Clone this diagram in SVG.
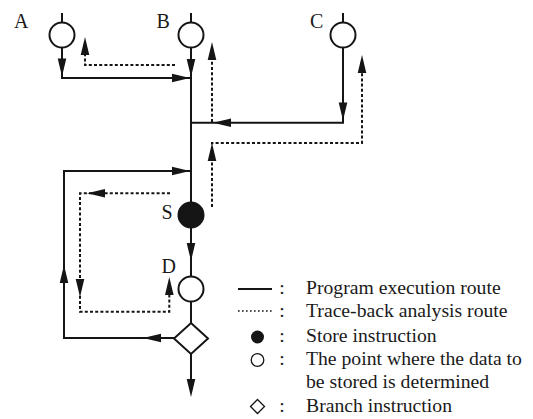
<svg xmlns="http://www.w3.org/2000/svg" xmlns:xlink="http://www.w3.org/1999/xlink" width="533" height="419" viewBox="0 0 533 419">
<style>
.bg{fill:#ffffff}
.ln{fill:none;stroke:#151515;stroke-width:2}
.dt{fill:none;stroke:#151515;stroke-width:2;stroke-dasharray:3 2.2}
.nd{fill:#ffffff;stroke:#151515;stroke-width:2}
.st{fill:#151515;stroke:#151515;stroke-width:2}
.ah{fill:#151515}
.lb{font-family:"Liberation Serif","Times New Roman",serif;font-size:20px;fill:#1a1a1a}
.lg{font-family:"Liberation Serif","Times New Roman",serif;font-size:19.7px;fill:#1a1a1a}
</style>
<defs>
<path id="ah" d="M0,0 L-18,-4.3 L-18,4.3 Z"/>
</defs>
<rect class="bg" x="0" y="0" width="533" height="419"/>

<g id="connectors">
  <!-- program execution route (solid) -->
  <path class="ln" d="M62,47.5 V78 H191"/>
  <path class="ln" d="M191,47.5 V202"/>
  <path class="ln" d="M343,47.5 V122.7 H191"/>
  <path class="ln" d="M191,171 H64 V338 H174"/>
  <path class="ln" d="M191,228 V276.5"/>
  <path class="ln" d="M191,301.5 V323"/>
  <path class="ln" d="M191,353.5 V390"/>
  <use href="#ah" class="ah" transform="translate(62,76.5) rotate(90)"/>
  <use href="#ah" class="ah" transform="translate(190,78) rotate(0)"/>
  <use href="#ah" class="ah" transform="translate(191,77) rotate(90)"/>
  <use href="#ah" class="ah" transform="translate(343,120.5) rotate(90)"/>
  <use href="#ah" class="ah" transform="translate(213,122.7) rotate(180)"/>
  <use href="#ah" class="ah" transform="translate(190,171) rotate(0)"/>
  <use href="#ah" class="ah" transform="translate(64,265) rotate(-90)"/>
  <use href="#ah" class="ah" transform="translate(143,338) rotate(180)"/>
  <use href="#ah" class="ah" transform="translate(191,261) rotate(90)"/>
  <use href="#ah" class="ah" transform="translate(191,397) rotate(90)"/>
  <!-- trace-back analysis route (dotted) -->
  <path class="dt" d="M175,65 H85 V52"/>
  <path class="dt" d="M212,122 V58"/>
  <path class="dt" d="M212,207 V143 H362 V70"/>
  <path class="dt" d="M170,193.3 H80 V311.7 H169.3 V292"/>
  <use href="#ah" class="ah" transform="translate(85,37) rotate(-90)"/>
  <use href="#ah" class="ah" transform="translate(212,42) rotate(-90)"/>
  <use href="#ah" class="ah" transform="translate(362,55) rotate(-90)"/>
  <use href="#ah" class="ah" transform="translate(212,143) rotate(-90)"/>
  <use href="#ah" class="ah" transform="translate(87,193.3) rotate(180)"/>
  <use href="#ah" class="ah" transform="translate(80,297) rotate(90)"/>
  <use href="#ah" class="ah" transform="translate(169.3,277) rotate(-90)"/>
</g>

<g id="node-A">
  <line class="ln" x1="62" y1="13" x2="62" y2="22.5"/>
  <circle class="nd" cx="62" cy="35" r="12.5"/>
  <text class="lb" x="14" y="28">A</text>
</g>
<g id="node-B">
  <line class="ln" x1="191" y1="13" x2="191" y2="22.5"/>
  <circle class="nd" cx="191" cy="35" r="12.5"/>
  <text class="lb" x="156.5" y="28">B</text>
</g>
<g id="node-C">
  <line class="ln" x1="343" y1="13" x2="343" y2="22.5"/>
  <circle class="nd" cx="343" cy="35" r="12.5"/>
  <text class="lb" x="310" y="28">C</text>
</g>
<g id="node-S">
  <circle class="st" cx="191" cy="215" r="12.5"/>
  <text class="lb" x="161.5" y="219">S</text>
</g>
<g id="node-D">
  <circle class="nd" cx="191" cy="289" r="12.5"/>
  <text class="lb" x="161.5" y="273">D</text>
</g>
<g id="node-branch">
  <polygon class="nd" points="191,323 208,338.5 191,354 174,338.5"/>
</g>

<g id="legend">
  <line x1="238" y1="289" x2="272" y2="289" stroke="#151515" stroke-width="2"/>
  <line x1="238" y1="311" x2="272" y2="311" stroke="#151515" stroke-width="1.6" stroke-dasharray="1.6 2.4"/>
  <circle cx="257.5" cy="337" r="6.5" fill="#151515"/>
  <circle cx="257.5" cy="360" r="6.3" fill="#ffffff" stroke="#151515" stroke-width="1.3"/>
  <polygon points="257.5,399.5 264.5,406.5 257.5,413.5 250.5,406.5" fill="#ffffff" stroke="#151515" stroke-width="1.3"/>
  <text class="lg" x="282" y="294" text-anchor="middle">:</text>
  <text class="lg" x="282" y="317" text-anchor="middle">:</text>
  <text class="lg" x="282" y="342" text-anchor="middle">:</text>
  <text class="lg" x="282" y="365" text-anchor="middle">:</text>
  <text class="lg" x="282" y="411.5" text-anchor="middle">:</text>
  <text class="lg" x="306" y="294">Program execution route</text>
  <text class="lg" x="306" y="317">Trace-back analysis route</text>
  <text class="lg" x="306" y="342">Store instruction</text>
  <text class="lg" x="306" y="365">The point where the data to</text>
  <text class="lg" x="306" y="388.3">be stored is determined</text>
  <text class="lg" x="306" y="411.5">Branch instruction</text>
</g>
</svg>
